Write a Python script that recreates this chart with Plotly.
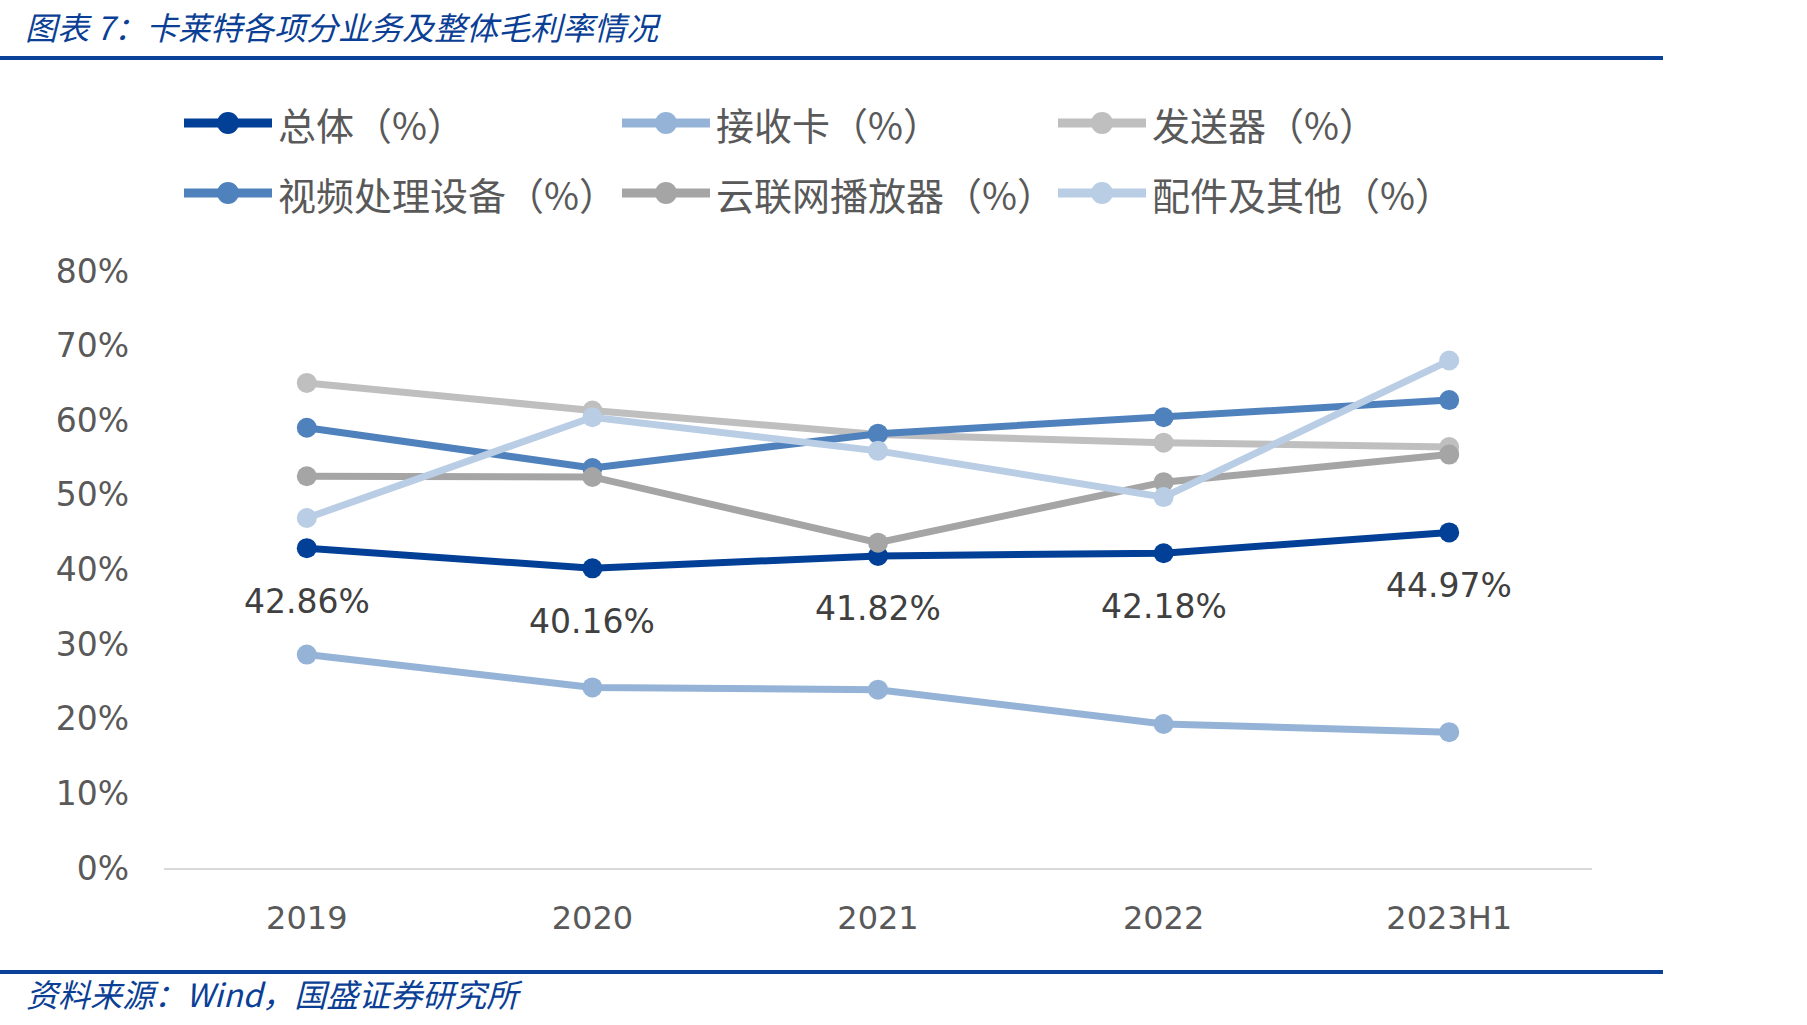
import plotly.graph_objects as go

# ---------------- data ----------------
years = ["2019", "2020", "2021", "2022", "2023H1"]
total = [42.86, 40.16, 41.82, 42.18, 44.97]
receiver_card = [28.6, 24.2, 23.9, 19.3, 18.2]
sender = [65.0, 61.3, 58.1, 57.0, 56.4]
video_proc = [59.0, 53.6, 58.2, 60.4, 62.7]
cloud_player = [52.5, 52.4, 43.6, 51.7, 55.4]
accessories = [46.9, 60.4, 55.9, 49.7, 68.0]

series_names = ["总体（%）", "接收卡（%）", "发送器（%）",
                "视频处理设备（%）", "云联网播放器（%）", "配件及其他（%）"]
series_values = [total, receiver_card, sender, video_proc, cloud_player, accessories]
series_colors = ["#023F96", "#95B3D7", "#BFBFBF", "#4F81BD", "#A5A5A5", "#B9CDE5"]

title_text = "图表 7：卡莱特各项分业务及整体毛利率情况"
source_text = "资料来源：Wind，国盛证券研究所"

# ---------------- layout geometry (pixels) ----------------
WIDTH, HEIGHT = 1807, 1025
L, R, T, B = 164, 1592, 271, 868
PW, PH = R - L, B - T


def px2x(px):
    return (px - L) / PW


def py2y(py):
    return (B - py) / PH


fig = go.Figure()
for name, vals, col in zip(series_names, series_values, series_colors):
    fig.add_trace(go.Scatter(
        x=years, y=vals, name=name, mode="lines+markers",
        line=dict(color=col, width=7),
        marker=dict(color=col, size=20),
        showlegend=False,
    ))

annotations = []
shapes = []

# data labels for 总体 (category index positions)
for i, v in enumerate(total):
    annotations.append(dict(
        x=i, y=v, xref="x", yref="y", text=f"{v:.2f}%", showarrow=False,
        yshift=-53, font=dict(family="DejaVu Sans", size=33, color="#404040"),
    ))

# manual legend
col_x = [184, 622, 1058]
row_y = [123, 193]
for i, (name, col) in enumerate(zip(series_names, series_colors)):
    cx = col_x[i % 3]
    cy = row_y[i // 3]
    shapes.append(dict(type="line", xref="paper", yref="paper",
                       x0=px2x(cx), x1=px2x(cx + 88), y0=py2y(cy), y1=py2y(cy),
                       line=dict(color=col, width=9)))
    shapes.append(dict(type="circle", xref="paper", yref="paper",
                       xsizemode="pixel", ysizemode="pixel",
                       xanchor=px2x(cx + 44), yanchor=py2y(cy),
                       x0=-11, x1=11, y0=-11, y1=11,
                       fillcolor=col, line=dict(color=col, width=0)))
    annotations.append(dict(
        x=px2x(cx + 92), y=py2y(cy), xref="paper", yref="paper",
        xanchor="left", yanchor="middle", text=name, showarrow=False,
        font=dict(family="Noto Sans CJK SC", size=38, color="#595959"),
    ))

# title & source
annotations.append(dict(
    x=px2x(24), y=py2y(2), xref="paper", yref="paper", xanchor="left",
    yanchor="top", text=f"<i>{title_text}</i>", showarrow=False,
    font=dict(family="Noto Sans CJK SC", size=32, color="#0B3F95"),
    borderpad=0,
))
annotations.append(dict(
    x=px2x(24), y=py2y(993), xref="paper", yref="paper", xanchor="left",
    yanchor="middle", text=f"<i>{source_text}</i>", showarrow=False,
    font=dict(family="Noto Sans CJK SC", size=32, color="#0B3F95"),
))

# header / footer rules
for yy in (58, 972):
    shapes.append(dict(type="line", xref="paper", yref="paper",
                       x0=px2x(0), x1=px2x(1663), y0=py2y(yy), y1=py2y(yy),
                       line=dict(color="#0B4299", width=4)))

fig.update_layout(
    width=WIDTH, height=HEIGHT,
    margin=dict(l=L, r=WIDTH - R, t=T, b=HEIGHT - B),
    paper_bgcolor="white", plot_bgcolor="white",
    annotations=annotations, shapes=shapes,
    xaxis=dict(
        type="category", range=[-0.5, 4.5], showgrid=False, zeroline=False,
        showline=True, linecolor="#D9D9D9", linewidth=2, ticks="",
        tickfont=dict(family="DejaVu Sans", size=32, color="#595959"),
        ticklabelstandoff=21,
    ),
    yaxis=dict(
        range=[0, 80], dtick=10, ticksuffix="%", showgrid=False, zeroline=False,
        showline=False, ticks="",
        tickfont=dict(family="DejaVu Sans", size=33, color="#595959"),
        ticklabelstandoff=34,
    ),
)

fig.write_html("out.html")
